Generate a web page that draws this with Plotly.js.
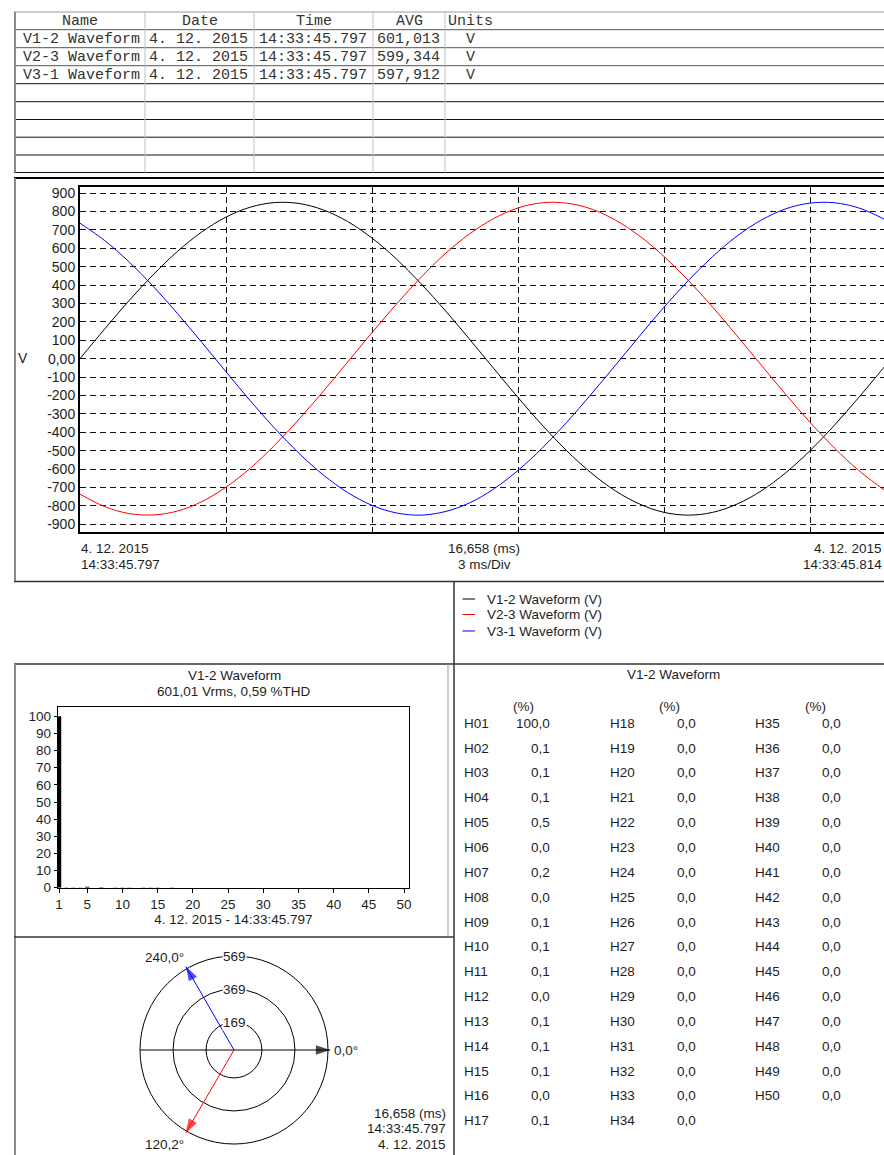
<!DOCTYPE html>
<html>
<head>
<meta charset="utf-8">
<script src="https://cdn.plot.ly/plotly-3.0.1.min.js"></script>
<style>html,body{margin:0;padding:0;background:#fff;overflow:hidden}</style>
</head>
<body>
<div id="chart" style="width:884px;height:1155px"></div>
<script>
// ---------------- DATA ----------------
// Summary table
const channelNames = ['V1-2 Waveform', 'V2-3 Waveform', 'V3-1 Waveform'];
const channelDates = ['4. 12. 2015', '4. 12. 2015', '4. 12. 2015'];
const channelTimes = ['14:33:45.797', '14:33:45.797', '14:33:45.797'];
const channelAvg = ['601,013', '599,344', '597,912'];
const channelUnits = ['V', 'V', 'V'];
const tableHeaders = ['Name', 'Date', 'Time', 'AVG', 'Units'];

// Waveforms (time in ms, voltage in V)
const timeMs = [0, 0.5, 1, 1.5, 2, 2.5, 3, 3.5, 4, 4.5, 5, 5.5, 6, 6.5, 7, 7.5, 8, 8.5, 9, 9.5,
  10, 10.5, 11, 11.5, 12, 12.5, 13, 13.5, 14, 14.5, 15, 15.5, 16, 16.5, 16.658];
const v12 = [0, 159, 313, 455, 582, 688, 769, 823, 848, 843, 808, 745, 655, 542, 409, 263, 107, -53, -211, -362,
  -500, -620, -718, -790, -835, -850, -835, -790, -718, -620, -500, -362, -211, -53, 0];
const v23 = [-736, -803, -841, -849, -828, -777, -698, -595, -470, -329, -177, -18, 142, 296, 440, 569, 677, 761, 819, 847,
  845, 814, 753, 666, 555, 425, 280, 124, -36, -194, -346, -485, -607, -708, -736];
const v31 = [736, 643, 528, 394, 246, 89, -71, -229, -378, -514, -632, -727, -797, -838, -850, -831, -784, -708, -607, -485,
  -346, -194, -36, 124, 280, 425, 555, 666, 753, 814, 845, 847, 819, 761, 736];
const waveTickVals = [900, 800, 700, 600, 500, 400, 300, 200, 100, 0, -100, -200, -300, -400, -500, -600, -700, -800, -900];
const waveTickText = ['900', '800', '700', '600', '500', '400', '300', '200', '100', '0,00', '-100', '-200', '-300', '-400', '-500', '-600', '-700', '-800', '-900'];
const divTicks = [3, 6, 9, 12, 15];
const legendNames = ['V1-2 Waveform (V)', 'V2-3 Waveform (V)', 'V3-1 Waveform (V)'];

// Harmonics of V1-2 (%)
const harmonicOrder = [1, 2, 3, 4, 5, 6, 7, 8, 9, 10, 11, 12, 13, 14, 15, 16, 17, 18, 19, 20, 21, 22, 23, 24, 25,
  26, 27, 28, 29, 30, 31, 32, 33, 34, 35, 36, 37, 38, 39, 40, 41, 42, 43, 44, 45, 46, 47, 48, 49, 50];
const harmonicPct = [100.0, 0.1, 0.1, 0.1, 0.5, 0.0, 0.2, 0.0, 0.1, 0.1, 0.1, 0.0, 0.1, 0.1, 0.1, 0.0, 0.1,
  0.0, 0.0, 0.0, 0.0, 0.0, 0.0, 0.0, 0.0, 0.0, 0.0, 0.0, 0.0, 0.0, 0.0, 0.0, 0.0, 0.0,
  0.0, 0.0, 0.0, 0.0, 0.0, 0.0, 0.0, 0.0, 0.0, 0.0, 0.0, 0.0, 0.0, 0.0, 0.0, 0.0];
const harmonicTicks = [1, 5, 10, 15, 20, 25, 30, 35, 40, 45, 50];
const harmonicYTicks = [0, 10, 20, 30, 40, 50, 60, 70, 80, 90, 100];

// Phasors (length, angle in degrees, clockwise from 0°)
const phasorNames = ['V1-2', 'V2-3', 'V3-1'];
const phasorMag = [582, 581, 583];
const phasorAngle = [0.0, 120.2, 240.0];
const ringValues = [169, 369, 569];

// ---------------- LAYOUT HELPERS ----------------
const W = 884, H = 1155;
const px = x => x / W;
const py = y => 1 - y / H;
const SANS = 'Liberation Sans, Arial, Helvetica, sans-serif';
const MONO = 'Liberation Mono, Courier New, monospace';
const INK = '#1e1e1e';
const waveColors = ['#000000', '#ff0000', '#0000ff'];

const annotations = [];
function label(text, x, y, opt) {
  const o = opt || {};
  annotations.push(Object.assign({
    text: text, x: px(x), y: py(y), xref: 'paper', yref: 'paper', showarrow: false,
    xanchor: 'center', yanchor: 'middle', borderpad: 0,
    font: {family: SANS, size: 13.5, color: INK}
  }, o));
}
const shapes = [];
function seg(x0, y0, x1, y1, color, width) {
  shapes.push({type: 'line', xref: 'paper', yref: 'paper', x0: px(x0), y0: py(y0), x1: px(x1), y1: py(y1),
    line: {color: color, width: width}});
}
const fmt = v => v.toFixed(1).replace('.', ',');

// ---------- top table ----------
const rowLines = [12, 29.7, 47.7, 65.7, 83.7, 101.7, 119.5, 137.2, 155, 172.5];
rowLines.forEach((y, i) => seg(14, y, 884, y, i === 0 ? '#9a9a9a' : (i < 4 ? '#555' : '#111'), 1));
[145, 254, 373, 445].forEach(x => seg(x, 12, x, 172.5, '#c0c0c0', 1));
seg(15, 12, 15, 172.5, '#8a8a8a', 2);
const monoFont = {family: MONO, size: 15, color: '#333'};
const headerX = [80, 200, 314, 409];
tableHeaders.forEach((h, i) => {
  if (i < 4) label(h, headerX[i], 21, {font: monoFont});
  else label(h, 447, 21, {font: monoFont, xanchor: 'left'});
});
channelNames.forEach((n, i) => {
  const y = 39 + 18 * i;
  label(n, 22, y, {font: monoFont, xanchor: 'left'});
  label(channelDates[i], 148, y, {font: monoFont, xanchor: 'left'});
  label(channelTimes[i], 258, y, {font: monoFont, xanchor: 'left'});
  label(channelAvg[i], 376, y, {font: monoFont, xanchor: 'left'});
  label(channelUnits[i], 470, y, {font: monoFont});
});

// ---------- panel borders ----------
seg(14, 178, 884, 178, '#000', 2);
seg(15, 178, 15, 581, '#8a8a8a', 2);
seg(14, 581.5, 884, 581.5, '#333', 1.5);
seg(454, 581.5, 454, 1155, '#333', 1.5);
seg(14, 664, 884, 664, '#333', 1.5);
seg(15, 664, 15, 1155, '#8a8a8a', 2);
seg(14, 937, 454, 937, '#333', 1.5);
seg(448, 664, 448, 937, '#9a9a9a', 1);

// ---------- waveform labels ----------
label('V', 23, 358, {font: {family: SANS, size: 14, color: INK}});
label('4. 12. 2015', 80, 548.5, {xanchor: 'left'});
label('14:33:45.797', 80, 564.5, {xanchor: 'left'});
label('16,658 (ms)', 484, 548.5);
label('3 ms/Div', 484, 564.5);
label('4. 12. 2015', 883, 548.5, {xanchor: 'right'});
label('14:33:45.814', 883, 564.5, {xanchor: 'right'});

// ---------- legend ----------
const legendY = [599, 614.5, 631];
legendNames.forEach((n, i) => {
  seg(462.5, legendY[i], 475, legendY[i], waveColors[i], 1);
  label(n, 486, legendY[i], {xanchor: 'left'});
});

// ---------- harmonic chart titles ----------
label('V1-2 Waveform', 234, 675);
label('601,01 Vrms, 0,59 %THD', 234, 691);

// ---------- harmonic table ----------
label('V1-2 Waveform', 673.5, 674.5);
[0, 1, 2].forEach(c => label('(%)', 523 + c * 146, 707));
harmonicOrder.forEach((h, i) => {
  const c = Math.floor(i / 17), r = i % 17;
  const y = 723.3 + r * 24.84;
  label('H' + String(h).padStart(2, '0'), 463.3 + c * 145.3, y, {xanchor: 'left'});
  label(fmt(harmonicPct[i]), 551 + c * 145.7, y, {xanchor: 'right'});
});

// ---------- phasor labels ----------
const polarCx = 234, polarCy = 1050, ringPx = 94;          // outer ring radius in px
const polarMax = 620;                                       // radial range shown
const polarR = ringPx * polarMax / ringValues[2];
ringValues.forEach(v => label(String(v), polarCx, polarCy - ringPx * v / ringValues[2],
  {bgcolor: '#fff', font: {family: SANS, size: 13.5, color: INK}}));
label(fmt(phasorAngle[2]) + '°', 164.5, 957.5);
label(fmt(phasorAngle[1]) + '°', 164.5, 1144);
label(fmt(phasorAngle[0]) + '°', 333, 1050, {xanchor: 'left'});
label('16,658 (ms)', 447, 1113, {xanchor: 'right'});
label('14:33:45.797', 447, 1128.5, {xanchor: 'right'});
label('4. 12. 2015', 447, 1144, {xanchor: 'right'});

// ---------------- TRACES ----------------
const traces = [];
[v12, v23, v31].forEach((ys, i) => {
  traces.push({type: 'scatter', mode: 'lines', x: timeMs, y: ys, name: legendNames[i],
    line: {color: waveColors[i], width: 1, shape: 'spline', smoothing: 1},
    xaxis: 'x', yaxis: 'y', showlegend: false, hoverinfo: 'skip'});
});
traces.push({type: 'bar', x: harmonicOrder, y: harmonicPct, xaxis: 'x2', yaxis: 'y2', width: 0.6,
  marker: {color: '#000', line: {width: 0}}, showlegend: false, hoverinfo: 'skip', name: 'Harmonics'});
// horizontal reference line of the phasor diagram (180° half)
traces.push({type: 'scatterpolar', subplot: 'polar', r: [0, ringValues[2]], theta: [180, 180], mode: 'lines',
  line: {color: '#000', width: 1}, showlegend: false, hoverinfo: 'skip', name: 'ref'});
const phasorColors = ['#000000', '#ff0000', '#0000ff'];
phasorNames.forEach((n, i) => {
  traces.push({type: 'scatterpolar', subplot: 'polar', r: [0, phasorMag[i]], theta: [0, phasorAngle[i]],
    mode: 'lines+markers', name: n,
    line: {color: phasorColors[i], width: 1},
    marker: {symbol: 'arrow', size: [0, 15], color: phasorColors[i], angle: [0, 90 + phasorAngle[i]], line: {width: 0}},
    showlegend: false, hoverinfo: 'skip'});
});

// ---------------- LAYOUT ----------------
const gridDash = '6px,4px';
const gridColor = '#111';
const layout = {
  width: W, height: H, margin: {l: 0, r: 0, t: 0, b: 0},
  paper_bgcolor: '#fff', plot_bgcolor: 'rgba(0,0,0,0)', showlegend: false,
  font: {family: SANS, size: 13.5, color: INK},
  xaxis: {domain: [px(80), 1], range: [0, 16.52], tickvals: divTicks, showticklabels: false, ticks: '',
    showgrid: true, gridcolor: gridColor, gridwidth: 1, griddash: gridDash, zeroline: false,
    showline: true, linecolor: '#000', linewidth: 2, mirror: true, anchor: 'y', fixedrange: true},
  yaxis: {domain: [py(531.7), py(187)], range: [-940, 932.6], tickvals: waveTickVals, ticktext: waveTickText,
    ticks: '', showgrid: true, gridcolor: gridColor, gridwidth: 1, griddash: gridDash, zeroline: false,
    showline: true, linecolor: '#000', linewidth: 2, mirror: false, anchor: 'x',
    tickfont: {family: SANS, size: 14, color: INK}, fixedrange: true},
  xaxis2: {domain: [px(57.7), px(409)], range: [0.8, 50.7], tickvals: harmonicTicks, ticks: 'outside', ticklen: 4,
    tickcolor: '#000', showgrid: false, zeroline: false, showline: true, linecolor: '#000', linewidth: 1, mirror: true,
    anchor: 'y2', tickfont: {family: SANS, size: 13.5, color: INK},
    title: {text: '4. 12. 2015 - 14:33:45.797', standoff: 2, font: {family: SANS, size: 13.5, color: INK}}},
  yaxis2: {domain: [py(887.7), py(706.7)], range: [0, 105.6], tickvals: harmonicYTicks, ticks: 'outside', ticklen: 3,
    tickcolor: '#000', showgrid: false, zeroline: false, showline: true, linecolor: '#000', linewidth: 1, mirror: true,
    anchor: 'x2', tickfont: {family: SANS, size: 13.5, color: INK}},
  polar: {
    domain: {x: [px(polarCx - polarR), px(polarCx + polarR)], y: [py(polarCy + polarR), py(polarCy - polarR)]},
    bgcolor: 'rgba(0,0,0,0)',
    radialaxis: {range: [0, polarMax], tickvals: ringValues, showticklabels: false, ticks: '',
      showgrid: true, gridcolor: '#000', gridwidth: 1, showline: false},
    angularaxis: {direction: 'clockwise', rotation: 0, showline: false,
      showgrid: false, showticklabels: false, ticks: ''}
  },
  shapes: shapes,
  annotations: annotations
};

Plotly.newPlot('chart', traces, layout, {staticPlot: true, displayModeBar: false});
</script>
</body>
</html>
